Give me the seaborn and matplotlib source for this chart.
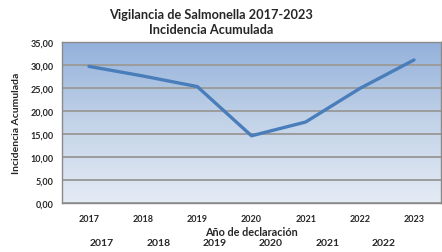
import numpy as np
import matplotlib
matplotlib.use("Agg")
import matplotlib.pyplot as plt
import matplotlib.transforms as mtransforms
from matplotlib.colors import LinearSegmentedColormap
import seaborn as sns
import pandas as pd

years = ["2017", "2018", "2019", "2020", "2021", "2022", "2023"]
incidencia = [29.7, 27.6, 25.3, 14.6, 17.6, 24.9, 31.1]
second_row = ["2017", "2018", "2019", "2020", "2021", "2022"]
yticks = [0, 5, 10, 15, 20, 25, 30, 35]

sns.set_style("white")
plt.rcParams['font.family'] = ['Lato', 'DejaVu Sans']

df = pd.DataFrame({"pos": np.arange(len(years)), "val": incidencia})

fig = plt.figure(figsize=(4.42, 2.53), dpi=100)
ax = fig.add_axes([0.140, 0.194, 0.858, 0.636])

# gradient background
cmap = LinearSegmentedColormap.from_list("bg", ["#E4EBF5", "#C3D3E8", "#93B1DB"])
grad = np.linspace(0, 1, 256).reshape(-1, 1)
ax.imshow(grad, cmap=cmap, origin="lower", aspect="auto",
          extent=[-0.5, 6.5, 0, 35], zorder=0)

sns.lineplot(data=df, x="pos", y="val", ax=ax, color="#4A7EBB", linewidth=2.4, zorder=3)

ax.set_xlim(-0.5, 6.5)
ax.set_ylim(0, 35)
ax.set_yticks(yticks)
ax.set_yticklabels([f"{v:.2f}".replace(".", ",") for v in yticks], fontsize=6.5, fontweight="bold")
ax.set_xticks(range(len(years)))
ax.set_xticklabels(years, fontsize=6.5, fontweight="bold")
ax.tick_params(axis="both", length=0)
ax.tick_params(axis="y", pad=6)
ax.tick_params(axis="x", pad=8)
ax.yaxis.grid(True, color="#9C9C9C", linewidth=1.4, zorder=1)
for ln in ax.get_ygridlines():
    ln.set_zorder(1)
for s in ax.spines.values():
    s.set_color("#8A8A8A")
    s.set_linewidth(1.0)

ax.set_ylabel("Incidencia Acumulada", fontsize=7.5, fontweight="bold", labelpad=7)
ax.set_xlabel("Año de declaración", fontsize=7.8, fontweight="bold", labelpad=2)

trans = mtransforms.blended_transform_factory(ax.transData, fig.transFigure)
for i, lab in enumerate(second_row):
    ax.text(i * 1.04 + 0.24, 1 - 244 / 253, lab, transform=trans, ha="center", va="center",
            fontsize=7.5, fontweight="bold")

fig.text(0.477, 1 - 15 / 253, "Vigilancia de Salmonella 2017-2023", ha="center", va="center",
         fontsize=9.2, fontweight="bold")
fig.text(0.477, 1 - 30 / 253, "Incidencia Acumulada", ha="center", va="center",
         fontsize=9.2, fontweight="bold")

fig.savefig("out.png", dpi=100)
